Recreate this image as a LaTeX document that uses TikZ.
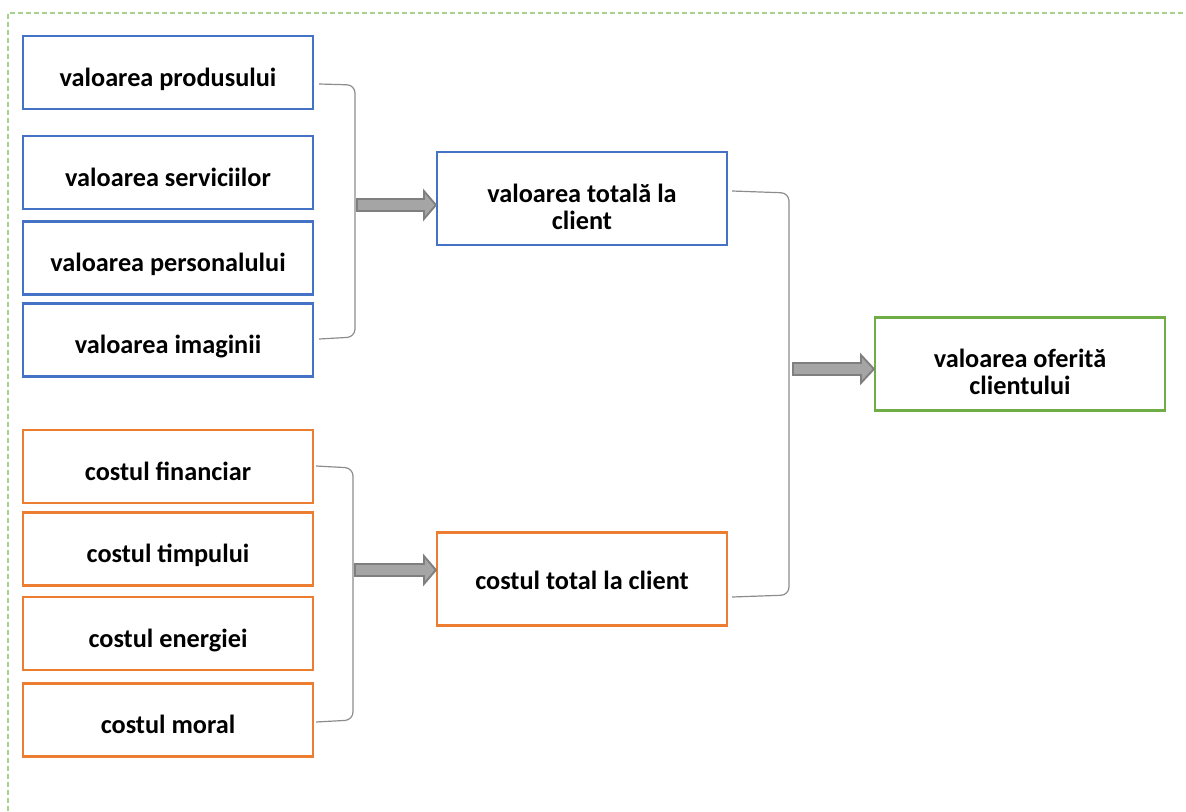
\documentclass[tikz,border=0pt]{standalone}
\usepackage{fontspec}
\setmainfont{Carlito}
\usetikzlibrary{calc}
\definecolor{cblue}{HTML}{4472C4}
\definecolor{corange}{HTML}{ED7D31}
\definecolor{cgreen}{HTML}{70AD47}
\definecolor{cframe}{HTML}{A9D18E}
\definecolor{cline}{HTML}{8C8C8C}
\definecolor{carrfill}{HTML}{A5A5A5}
\definecolor{carrline}{HTML}{7F7F7F}
\tikzset{
  box/.style={draw, line width=1.6pt, fill=white, minimum width=290*0.75pt, minimum height=73*0.75pt,
    inner sep=0pt, font=\bfseries\fontsize{19.7}{20}\selectfont, align=center,
    text height=20.25pt, text depth=0pt},
  bluebox/.style={box, draw=cblue},
  orangebox/.style={box, draw=corange},
  bigbox/.style={minimum height=93*0.75pt},
  oneline/.style={text height=15pt, text depth=0pt},
  twoline/.style={text height=45.75pt, text depth=0pt},
  greenbox/.style={box, bigbox, draw=cgreen},
  bracket/.style={draw=cline, line width=0.9pt, rounded corners=6pt},
  blockarrow/.style={draw=carrline, fill=carrfill, line width=1.4pt, line join=miter},
}
\begin{document}
\begin{tikzpicture}[x=0.75pt,y=-0.75pt]
\useasboundingbox (0,0) rectangle (1186,811);
\draw[cframe, line width=1pt, dash pattern=on 4pt off 2pt] (8,811) -- (8,13) -- (1186,13);

\node[bluebox] (p1) at (168,72.5) {valoarea produsului};
\node[bluebox] (p2) at (168,172.5) {valoarea serviciilor};
\node[bluebox] (p3) at (168,258) {valoarea personalului};
\node[bluebox] (p4) at (168,340) {valoarea imaginii};

\node[orangebox] (c1) at (168,466.5) {costul financiar};
\node[orangebox] (c2) at (168,549) {costul timpului};
\node[orangebox] (c3) at (168,633.5) {costul energiei};
\node[orangebox] (c4) at (168,720) {costul moral};

\node[bluebox, bigbox, twoline] (vt) at (582,198.5) {valoarea totală la\\client};
\node[orangebox, bigbox, oneline] (ct) at (582,579) {costul total la client};
\node[greenbox, twoline, text height=45pt] (vo) at (1020,364) {valoarea oferită\\clientului};

% brackets
\coordinate (b1t) at (p1.east |- 0,84);
\coordinate (b1b) at (p4.east |- 0,339);
\draw[bracket] ($(b1t)+(5,0)$) -- (355,85) -- (355,337) -- ($(b1b)+(5,0)$);

\coordinate (b2t) at (c1.east |- 0,466);
\coordinate (b2b) at (c4.east |- 0,722);
\draw[bracket] ($(b2t)+(2,0)$) -- (353,468) -- (353,720) -- ($(b2b)+(2,0)$);

\coordinate (b3t) at (vt.east |- 0,191);
\coordinate (b3b) at (ct.east |- 0,597);
\draw[bracket] ($(b3t)+(4,0)$) -- (789,193) -- (789,595) -- ($(b3b)+(4,0)$);

% block arrows
\coordinate (a1s) at (357,205);
\coordinate (a1e) at (vt.west |- 0,205);
\draw[blockarrow] ($(a1s)+(0,-6)$) -- ($(a1e)+(-12,-6)$) -- ($(a1e)+(-12,-14)$) -- (a1e)
  -- ($(a1e)+(-12,14)$) -- ($(a1e)+(-12,6)$) -- ($(a1s)+(0,6)$) -- cycle;

\coordinate (a2s) at (355,570);
\coordinate (a2e) at (ct.west |- 0,570);
\draw[blockarrow] ($(a2s)+(0,-6)$) -- ($(a2e)+(-12,-6)$) -- ($(a2e)+(-12,-14)$) -- (a2e)
  -- ($(a2e)+(-12,14)$) -- ($(a2e)+(-12,6)$) -- ($(a2s)+(0,6)$) -- cycle;

\coordinate (a3s) at (793,369);
\coordinate (a3e) at (vo.west |- 0,369);
\draw[blockarrow] ($(a3s)+(0,-6)$) -- ($(a3e)+(-13,-6)$) -- ($(a3e)+(-13,-14)$) -- (a3e)
  -- ($(a3e)+(-13,14)$) -- ($(a3e)+(-13,6)$) -- ($(a3s)+(0,6)$) -- cycle;
\end{tikzpicture}
\end{document}
